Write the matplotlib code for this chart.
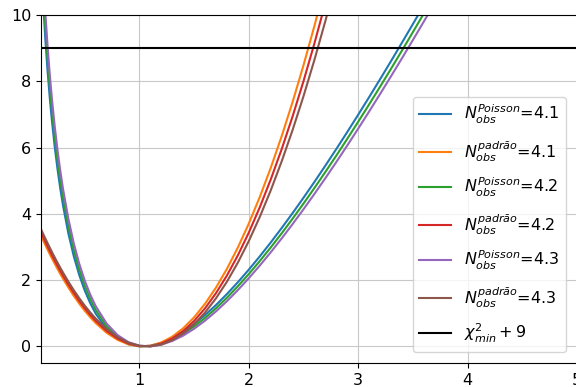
import matplotlib.pyplot as plt

#dados
x_vals = [0.10, 0.12, 0.14, 0.16, 0.18, 0.20, 0.225, 0.25, 0.275, 0.30, 0.35, 0.40, 0.45, 0.50, 0.55,
          0.60, 0.70, 0.80, 0.90, 1.00, 1.10, 1.20, 1.30, 1.40, 1.50, 1.60, 1.70, 1.80, 1.90, 2.00,
          2.10, 2.20, 2.30, 2.40, 2.50, 2.60, 2.70, 2.80, 2.90, 3.00, 3.10, 3.20, 3.30, 3.40, 3.50,
          3.60, 3.70]

n_obs = ['4.1', '4.2', '4.3']

#curvas Poisson
poisson_41 = [11.684, 10.349, 9.245, 8.310, 7.504, 6.800, 6.034, 5.370, 4.789, 4.275, 3.411, 2.716,
              2.150, 1.686, 1.305, 0.991, 0.527, 0.232, 0.067, 0.003, 0.021, 0.108, 0.251, 0.443,
              0.678, 0.949, 1.251, 1.583, 1.939, 2.319, 2.719, 3.137, 3.573, 4.024, 4.489, 4.967,
              5.458, 5.960, 6.472, 6.994, 7.525, 8.065, 8.612, 9.168, 9.730, 10.299, 10.874]
poisson_42 = [12.152, 10.780, 9.645, 8.684, 7.854, 7.129, 6.340, 5.655, 5.054, 4.523, 3.628, 2.907,
              2.317, 1.832, 1.432, 1.101, 0.606, 0.284, 0.095, 0.010, 0.009, 0.078, 0.206, 0.383,
              0.604, 0.862, 1.153, 1.472, 1.818, 2.187, 2.578, 2.987, 3.413, 3.856, 4.313, 4.784,
              5.267, 5.761, 6.266, 6.782, 7.306, 7.839, 8.381, 8.930, 9.487, 10.050, 10.620]
poisson_43 = [12.624, 11.216, 10.051, 9.062, 8.209, 7.463, 6.650, 5.944, 5.325, 4.776, 3.851, 3.102,
              2.489, 1.983, 1.563, 1.215, 0.689, 0.341, 0.128, 0.022, 0.002, 0.054, 0.166, 0.328,
              0.535, 0.780, 1.059, 1.367, 1.702, 2.061, 2.441, 2.841, 3.259, 3.693, 4.142, 4.605,
              5.080, 5.567, 6.066, 6.574, 7.092, 7.619, 8.154, 8.698, 9.248, 9.806, 10.370]

#curvas padrao (so ate x=2.8, depois sai do grafico)
padrao_41 = [3.339, 3.196, 3.057, 2.920, 2.786, 2.656, 2.498, 2.344, 2.195, 2.051, 1.778, 1.524,
             1.290, 1.076, 0.881, 0.705, 0.412, 0.198, 0.061, 0.002, 0.022, 0.120, 0.295, 0.549,
             0.880, 1.290, 1.778, 2.344, 2.988, 3.710, 4.510, 5.388, 6.344, 7.378, 8.490, 9.680,
             10.949, 12.295]
padrao_42 = [3.438, 3.295, 3.155, 3.018, 2.883, 2.752, 2.593, 2.438, 2.288, 2.143, 1.867, 1.610,
             1.371, 1.152, 0.952, 0.771, 0.467, 0.238, 0.086, 0.010, 0.010, 0.086, 0.238, 0.467,
             0.771, 1.152, 1.610, 2.143, 2.752, 3.438, 4.200, 5.038, 5.952, 6.943, 8.010, 9.152,
             10.371, 11.667]
padrao_43 = [3.537, 3.394, 3.253, 3.115, 2.981, 2.849, 2.688, 2.533, 2.381, 2.235, 1.956, 1.695,
             1.454, 1.230, 1.026, 0.840, 0.523, 0.281, 0.114, 0.021, 0.002, 0.058, 0.188, 0.393,
             0.672, 1.026, 1.454, 1.956, 2.533, 3.184, 3.909, 4.709, 5.584, 6.533, 7.556, 8.653,
             9.826, 11.072]

chi2_min_9 = 9

plt.rcParams['font.size'] = 11.5

fig = plt.figure(figsize=(5.76, 3.87), dpi=100)
ax = fig.add_axes([0.0712, 0.062, 0.9306, 0.8992])

poisson = [poisson_41, poisson_42, poisson_43]
padrao = [padrao_41, padrao_42, padrao_43]

for i in range(3):
  ax.plot(x_vals[:len(poisson[i])], poisson[i], label=r'$N_{obs}^{Poisson}$=' + n_obs[i])
  ax.plot(x_vals[:len(padrao[i])], padrao[i], label=r'$N_{obs}^{padrão}$=' + n_obs[i])

ax.axhline(chi2_min_9, color='black', label=r'$\chi^2_{min} + 9$')

ax.set_xlim(0.1, 5)
ax.set_ylim(-0.5, 10)
ax.set_xticks([1, 2, 3, 4, 5])
ax.set_yticks([0, 2, 4, 6, 8, 10])
ax.grid(True, color='#c8c8c8')
ax.legend(loc='lower right', labelspacing=0.78, borderaxespad=0.7)

plt.savefig('out.png')
